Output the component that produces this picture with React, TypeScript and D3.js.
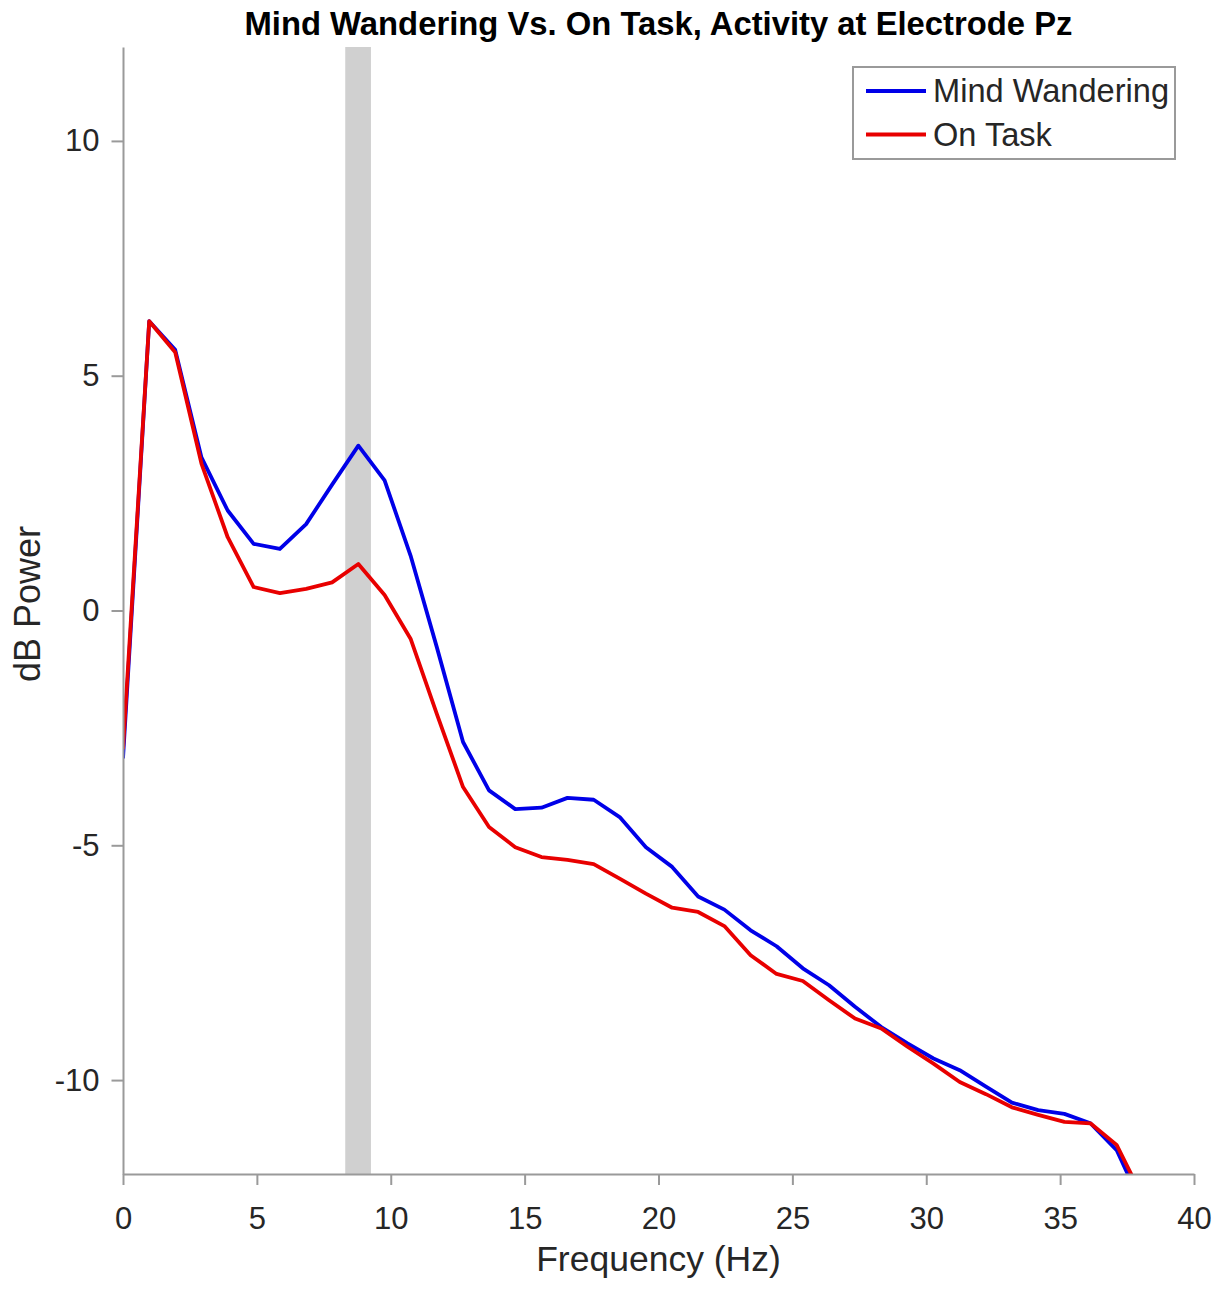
import React, { useRef, useEffect } from 'react';
import { select, scaleLinear, line, axisBottom, axisLeft } from 'd3';

// frequency bins (Hz)
const freqs = [
  0, 0.98, 1.95, 2.93, 3.91, 4.88, 5.86, 6.84, 7.81, 8.79,
  9.77, 10.74, 11.72, 12.7, 13.67, 14.65, 15.63, 16.6, 17.58, 18.55,
  19.53, 20.51, 21.48, 22.46, 23.44, 24.41, 25.39, 26.37, 27.34, 28.32,
  29.3, 30.27, 31.25, 32.23, 33.2, 34.18, 35.16, 36.13, 37.11, 38.09,
];

const mindWandering = [
  -3.15, 6.16, 5.55, 3.26, 2.13, 1.42, 1.31, 1.84, 2.68, 3.51,
  2.77, 1.17, -0.78, -2.8, -3.83, -4.23, -4.2, -3.99, -4.03, -4.4,
  -5.04, -5.46, -6.09, -6.37, -6.81, -7.15, -7.62, -7.98, -8.44, -8.87,
  -9.22, -9.54, -9.79, -10.14, -10.48, -10.64, -10.72, -10.92, -11.49, -12.7,
];

const onTask = [
  -2.95, 6.16, 5.5, 3.13, 1.56, 0.5, 0.37, 0.46, 0.6, 0.99,
  0.33, -0.6, -2.2, -3.76, -4.61, -5.04, -5.25, -5.31, -5.4, -5.71,
  -6.03, -6.33, -6.42, -6.72, -7.34, -7.74, -7.89, -8.3, -8.69, -8.9,
  -9.29, -9.65, -10.04, -10.3, -10.58, -10.74, -10.89, -10.92, -11.38, -12.5,
];

const xTicks = [0, 5, 10, 15, 20, 25, 30, 35, 40];
const yTicks = [-10, -5, 0, 5, 10];
const band = [8.3, 9.26];

const series = [
  { name: 'Mind Wandering', values: mindWandering, color: '#0000e8' },
  { name: 'On Task', values: onTask, color: '#e80000' },
];

const FONT = '"Liberation Sans", Arial, sans-serif';
const TEXT = '#262626';
const AXIS = '#9a9a9a';

const App: React.FC = () => {
  const svgRef = useRef<SVGSVGElement | null>(null);

  useEffect(() => {
    if (!svgRef.current) return;
    const svg = select(svgRef.current);
    svg.selectAll('*').remove();

    const width = 1226;
    const height = 1300;
    const margin = { top: 47, right: 32, bottom: 126, left: 123 };
    const innerWidth = width - margin.left - margin.right;
    const innerHeight = height - margin.top - margin.bottom;

    const x = scaleLinear().domain([0, 40]).range([0, innerWidth]);
    const y = scaleLinear().domain([-12, 12]).range([innerHeight, 0]);

    svg.append('defs').append('clipPath').attr('id', 'plot-clip')
      .append('rect').attr('width', innerWidth).attr('height', innerHeight);

    const g = svg.append('g').attr('transform', `translate(${margin.left},${margin.top})`);

    // highlighted alpha band
    g.append('rect')
      .attr('x', x(band[0]))
      .attr('y', 0)
      .attr('width', x(band[1]) - x(band[0]))
      .attr('height', innerHeight)
      .attr('fill', '#d0d0d0');

    const lineGen = line<number>()
      .x((_, i) => x(freqs[i]))
      .y(d => y(d));

    const lines = g.append('g').attr('clip-path', 'url(#plot-clip)');
    series.forEach(s => {
      lines.append('path')
        .datum(s.values)
        .attr('d', lineGen)
        .attr('fill', 'none')
        .attr('stroke', s.color)
        .attr('stroke-width', 3.8)
        .attr('stroke-linejoin', 'round');
    });

    const xAxis = g.append('g')
      .attr('transform', `translate(0,${innerHeight})`)
      .call(axisBottom(x).tickValues(xTicks).tickFormat(d => String(d)).tickSize(11).tickPadding(22).tickSizeOuter(0));
    const yAxis = g.append('g')
      .call(axisLeft(y).tickValues(yTicks).tickFormat(d => String(d)).tickSize(11.5).tickPadding(12).tickSizeOuter(0));

    [xAxis, yAxis].forEach(a => {
      a.select('.domain').attr('stroke', AXIS).attr('stroke-width', 2);
      a.selectAll('.tick line').attr('stroke', AXIS).attr('stroke-width', 2);
      a.selectAll('.tick text').attr('fill', TEXT).attr('font-family', FONT).attr('font-size', 31);
    });

    // title and axis labels
    svg.append('text')
      .attr('x', margin.left + innerWidth / 2)
      .attr('y', 35)
      .attr('text-anchor', 'middle')
      .attr('font-family', FONT)
      .attr('font-weight', 'bold')
      .attr('font-size', 32.8)
      .attr('fill', '#000')
      .text('Mind Wandering Vs. On Task, Activity at Electrode Pz');

    svg.append('text')
      .attr('x', margin.left + innerWidth / 2)
      .attr('y', 1271)
      .attr('text-anchor', 'middle')
      .attr('font-family', FONT)
      .attr('font-size', 35.5)
      .attr('fill', TEXT)
      .text('Frequency (Hz)');

    svg.append('text')
      .attr('transform', 'rotate(-90)')
      .attr('x', -604)
      .attr('y', 40)
      .attr('text-anchor', 'middle')
      .attr('font-family', FONT)
      .attr('font-size', 36)
      .attr('fill', TEXT)
      .text('dB Power');

    // legend
    const legend = svg.append('g').attr('transform', 'translate(853,67)');
    legend.append('rect')
      .attr('width', 322)
      .attr('height', 92)
      .attr('fill', '#fff')
      .attr('stroke', AXIS)
      .attr('stroke-width', 2);
    series.forEach((s, i) => {
      const ly = 24 + i * 43.5;
      legend.append('line')
        .attr('x1', 13).attr('x2', 73)
        .attr('y1', ly).attr('y2', ly)
        .attr('stroke', s.color)
        .attr('stroke-width', 3.8);
      legend.append('text')
        .attr('x', 80)
        .attr('y', ly + 11)
        .attr('font-family', FONT)
        .attr('font-size', 32.6)
        .attr('fill', TEXT)
        .text(s.name);
    });
  }, []);

  return (
    <div style={{ position: 'absolute', left: 0, top: 0, width: 1226, height: 1300, background: '#fff' }}>
      <svg ref={svgRef} width={1226} height={1300}></svg>
    </div>
  );
};

export default App;
